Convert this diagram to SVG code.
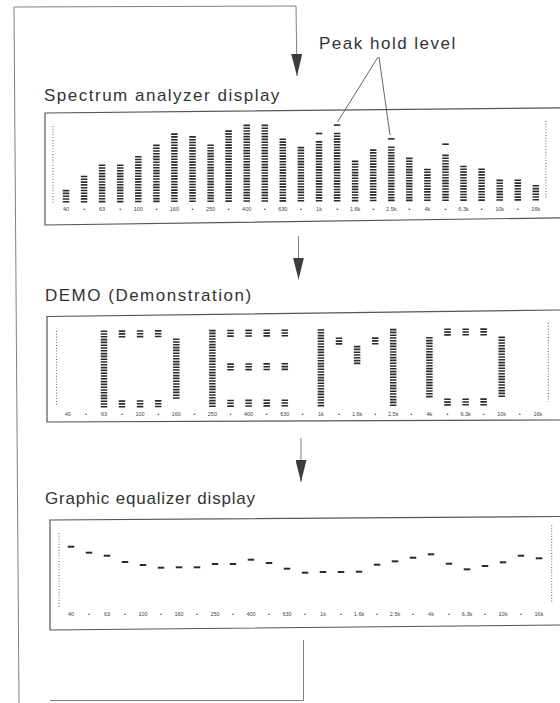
<svg xmlns="http://www.w3.org/2000/svg" width="560" height="703" viewBox="0 0 560 703">
<defs>
<marker id="ah" markerUnits="userSpaceOnUse" markerWidth="22" markerHeight="11" refX="22" refY="5.5" orient="auto" viewBox="0 0 22 11">
<path d="M0,0 L22,5.5 L0,11 Z" fill="#3d3d3d"/>
</marker>
</defs>
<style>
.title{font-family:"Liberation Sans",Arial,sans-serif;font-size:17px;letter-spacing:1.5px;fill:#333}
.lbl{font-family:"Liberation Sans",Arial,sans-serif;font-size:5.5px;fill:#444;text-anchor:middle}
.box{fill:none;stroke:#555;stroke-width:1.2}
.bar{fill:none;stroke:#2b2b2b;stroke-width:6.5;stroke-dasharray:1.6 1.2}
.scale{fill:none;stroke:#666;stroke-width:1.1;stroke-dasharray:0.9 1.9}
.mk{fill:none;stroke:#2b2b2b;stroke-width:6.5}
.conn{fill:none;stroke:#808080;stroke-width:1}
.arr{fill:none;stroke:#808080;stroke-width:1;marker-end:url(#ah)}
.lead{fill:none;stroke:#666;stroke-width:1}
</style>
<rect x="0" y="0" width="560" height="703" fill="#ffffff"/>

<g id="connectors">
<path class="conn" d="M19 703 L14 7 L296 6"/>
<path class="arr" d="M296 6 L297 76"/>
<path class="arr" d="M298.5 236 L298.5 279.5"/>
<path class="arr" d="M301 438 L301 482"/>
<path class="conn" d="M303.5 640 V700.5 H50"/>
</g>

<g id="peak-hold-label">
<text class="title" x="319" y="49">Peak hold level</text>
<path class="lead" d="M378 57 L337.5 122"/>
<path class="lead" d="M379 57 L390 135"/>
</g>

<g id="spectrum-analyzer">
<text class="title" x="44" y="101">Spectrum analyzer display</text>
<path class="box" d="M560 107.8 L45 113 L45 225 L560 217.8"/>
<path class="scale" d="M53 126V204"/>
<path class="scale" d="M546 121V199"/>
<path class="bar" d="M66 202.6v-12.8"/>
<path class="bar" d="M84.1 202.5v-26.8"/>
<path class="bar" d="M102.1 202.4v-38"/>
<path class="bar" d="M120.2 202.4v-38"/>
<path class="bar" d="M138.3 202.3v-46.4"/>
<path class="bar" d="M156.4 202.2v-57.6"/>
<path class="bar" d="M174.4 202.1v-68.8"/>
<path class="bar" d="M192.5 202.1v-66"/>
<path class="bar" d="M210.6 202v-57.6"/>
<path class="bar" d="M228.6 201.9v-71.6"/>
<path class="bar" d="M246.7 201.8v-77.2"/>
<path class="bar" d="M264.8 201.8v-77.2"/>
<path class="bar" d="M282.8 201.7v-63.2"/>
<path class="bar" d="M300.9 201.6v-54.8"/>
<path class="bar" d="M319 201.5v-60.4"/>
<path class="bar" d="M337.1 201.5v-68.8"/>
<path class="bar" d="M355.1 201.4v-40.8"/>
<path class="bar" d="M373.2 201.3v-52"/>
<path class="bar" d="M391.3 201.2v-54.8"/>
<path class="bar" d="M409.3 201.2v-43.6"/>
<path class="bar" d="M427.4 201.1v-32.4"/>
<path class="bar" d="M445.5 201v-46.4"/>
<path class="bar" d="M463.5 200.9v-35.2"/>
<path class="bar" d="M481.6 200.9v-32.4"/>
<path class="bar" d="M499.7 200.8v-21.2"/>
<path class="bar" d="M517.8 200.7v-21.2"/>
<path class="bar" d="M535.8 200.6v-15.6"/>
<path class="mk" d="M319 134.3v-1.6"/>
<path class="mk" d="M337.1 125.9v-1.6"/>
<path class="mk" d="M391.3 139.6v-1.6"/>
<path class="mk" d="M445.5 145v-1.6"/>
<g class="lbl">
<text x="66" y="211">40</text><text x="84.1" y="211">•</text><text x="102.1" y="211">63</text><text x="120.2" y="211">•</text><text x="138.3" y="211">100</text><text x="156.4" y="211">•</text><text x="174.4" y="211">160</text><text x="192.5" y="211">•</text><text x="210.6" y="211">250</text><text x="228.6" y="211">•</text><text x="246.7" y="211">400</text><text x="264.8" y="211">•</text><text x="282.8" y="211">630</text><text x="300.9" y="211">•</text><text x="319" y="211">1k</text><text x="337.1" y="211">•</text><text x="355.1" y="211">1.6k</text><text x="373.2" y="211">•</text><text x="391.3" y="211">2.5k</text><text x="409.3" y="211">•</text><text x="427.4" y="211">4k</text><text x="445.5" y="211">•</text><text x="463.5" y="211">6.3k</text><text x="481.6" y="211">•</text><text x="499.7" y="211">10k</text><text x="517.8" y="211">•</text><text x="535.8" y="211">16k</text>
</g>
</g>

<g id="demo-display">
<text class="title" x="45" y="301">DEMO (Demonstration)</text>
<path class="box" d="M560 310 L47 316.5 L47 422 L560 420"/>
<path class="scale" d="M56.5 331V405"/>
<path class="scale" d="M548.3 323V402"/>
<path class="bar" d="M104 407.6v-77.2"/>
<path class="bar" d="M122 407.5v-7.2"/><path class="bar" d="M122 337.5v-7.2"/>
<path class="bar" d="M140.1 407.4v-7.2"/><path class="bar" d="M140.1 337.4v-7.2"/>
<path class="bar" d="M158.2 407.3v-7.2"/><path class="bar" d="M158.2 337.3v-7.2"/>
<path class="bar" d="M176.3 398.8v-60.4"/>
<path class="bar" d="M212.4 407v-77.2"/>
<path class="bar" d="M230.5 406.9v-7.2"/><path class="bar" d="M230.5 370.5v-7.2"/><path class="bar" d="M230.5 336.9v-7.2"/>
<path class="bar" d="M248.6 406.8v-7.2"/><path class="bar" d="M248.6 370.4v-7.2"/><path class="bar" d="M248.6 336.8v-7.2"/>
<path class="bar" d="M266.7 406.7v-7.2"/><path class="bar" d="M266.7 370.3v-7.2"/><path class="bar" d="M266.7 336.7v-7.2"/>
<path class="bar" d="M284.8 406.6v-7.2"/><path class="bar" d="M284.8 370.2v-7.2"/><path class="bar" d="M284.8 336.6v-7.2"/>
<path class="bar" d="M320.9 406.4v-77.2"/>
<path class="bar" d="M339 344.7v-7.2"/>
<path class="bar" d="M357.1 364.2v-18.4"/>
<path class="bar" d="M375.2 344.5v-7.2"/>
<path class="bar" d="M393.2 406v-77.2"/>
<path class="bar" d="M429.4 397.4v-60.4"/>
<path class="bar" d="M447.5 405.7v-7.2"/><path class="bar" d="M447.5 335.7v-7.2"/>
<path class="bar" d="M465.6 405.6v-7.2"/><path class="bar" d="M465.6 335.6v-7.2"/>
<path class="bar" d="M483.6 405.5v-7.2"/><path class="bar" d="M483.6 335.5v-7.2"/>
<path class="bar" d="M501.7 397v-60.4"/>
<g class="lbl">
<text x="67.8" y="415.5">40</text><text x="85.9" y="415.5">•</text><text x="104" y="415.5">63</text><text x="122" y="415.5">•</text><text x="140.1" y="415.5">100</text><text x="158.2" y="415.5">•</text><text x="176.3" y="415.5">160</text><text x="194.4" y="415.5">•</text><text x="212.4" y="415.5">250</text><text x="230.5" y="415.5">•</text><text x="248.6" y="415.5">400</text><text x="266.7" y="415.5">•</text><text x="284.8" y="415.5">630</text><text x="302.8" y="415.5">•</text><text x="320.9" y="415.5">1k</text><text x="339" y="415.5">•</text><text x="357.1" y="415.5">1.6k</text><text x="375.2" y="415.5">•</text><text x="393.2" y="415.5">2.5k</text><text x="411.3" y="415.5">•</text><text x="429.4" y="415.5">4k</text><text x="447.5" y="415.5">•</text><text x="465.6" y="415.5">6.3k</text><text x="483.6" y="415.5">•</text><text x="501.7" y="415.5">10k</text><text x="519.8" y="415.5">•</text><text x="537.9" y="415.5">16k</text>
</g>
</g>

<g id="graphic-equalizer">
<text class="title" x="45" y="504" style="letter-spacing:0.8px">Graphic equalizer display</text>
<path class="box" d="M560 516.5 L50 520 L50 630 L560 625"/>
<path class="scale" d="M59 533V607"/>
<path class="scale" d="M551.7 525V603"/>
<path class="mk" d="M71 547.7v-2"/>
<path class="mk" d="M89 553.7v-2"/>
<path class="mk" d="M107 556.7v-2"/>
<path class="mk" d="M125 563v-2"/>
<path class="mk" d="M143 566v-2"/>
<path class="mk" d="M161 568.7v-2"/>
<path class="mk" d="M179 568.3v-2"/>
<path class="mk" d="M197 568.3v-2"/>
<path class="mk" d="M215 565v-2"/>
<path class="mk" d="M233 565v-2"/>
<path class="mk" d="M251 560.7v-2"/>
<path class="mk" d="M269 564v-2"/>
<path class="mk" d="M287 569.7v-2"/>
<path class="mk" d="M305 573.7v-2"/>
<path class="mk" d="M323 573v-2"/>
<path class="mk" d="M341 573v-2"/>
<path class="mk" d="M359 572.7v-2"/>
<path class="mk" d="M377 565.7v-2"/>
<path class="mk" d="M395 562.3v-2"/>
<path class="mk" d="M413 558.7v-2"/>
<path class="mk" d="M431 555.3v-2"/>
<path class="mk" d="M449 564.7v-2"/>
<path class="mk" d="M467 570.3v-2"/>
<path class="mk" d="M485 567v-2"/>
<path class="mk" d="M503 563.3v-2"/>
<path class="mk" d="M521 556.7v-2"/>
<path class="mk" d="M539 559.3v-2"/>
<g class="lbl">
<text x="71" y="615.5">40</text><text x="89" y="615.5">•</text><text x="107" y="615.5">63</text><text x="125" y="615.5">•</text><text x="143" y="615.5">100</text><text x="161" y="615.5">•</text><text x="179" y="615.5">160</text><text x="197" y="615.5">•</text><text x="215" y="615.5">250</text><text x="233" y="615.5">•</text><text x="251" y="615.5">400</text><text x="269" y="615.5">•</text><text x="287" y="615.5">630</text><text x="305" y="615.5">•</text><text x="323" y="615.5">1k</text><text x="341" y="615.5">•</text><text x="359" y="615.5">1.6k</text><text x="377" y="615.5">•</text><text x="395" y="615.5">2.5k</text><text x="413" y="615.5">•</text><text x="431" y="615.5">4k</text><text x="449" y="615.5">•</text><text x="467" y="615.5">6.3k</text><text x="485" y="615.5">•</text><text x="503" y="615.5">10k</text><text x="521" y="615.5">•</text><text x="539" y="615.5">16k</text>
</g>
</g>
</svg>
